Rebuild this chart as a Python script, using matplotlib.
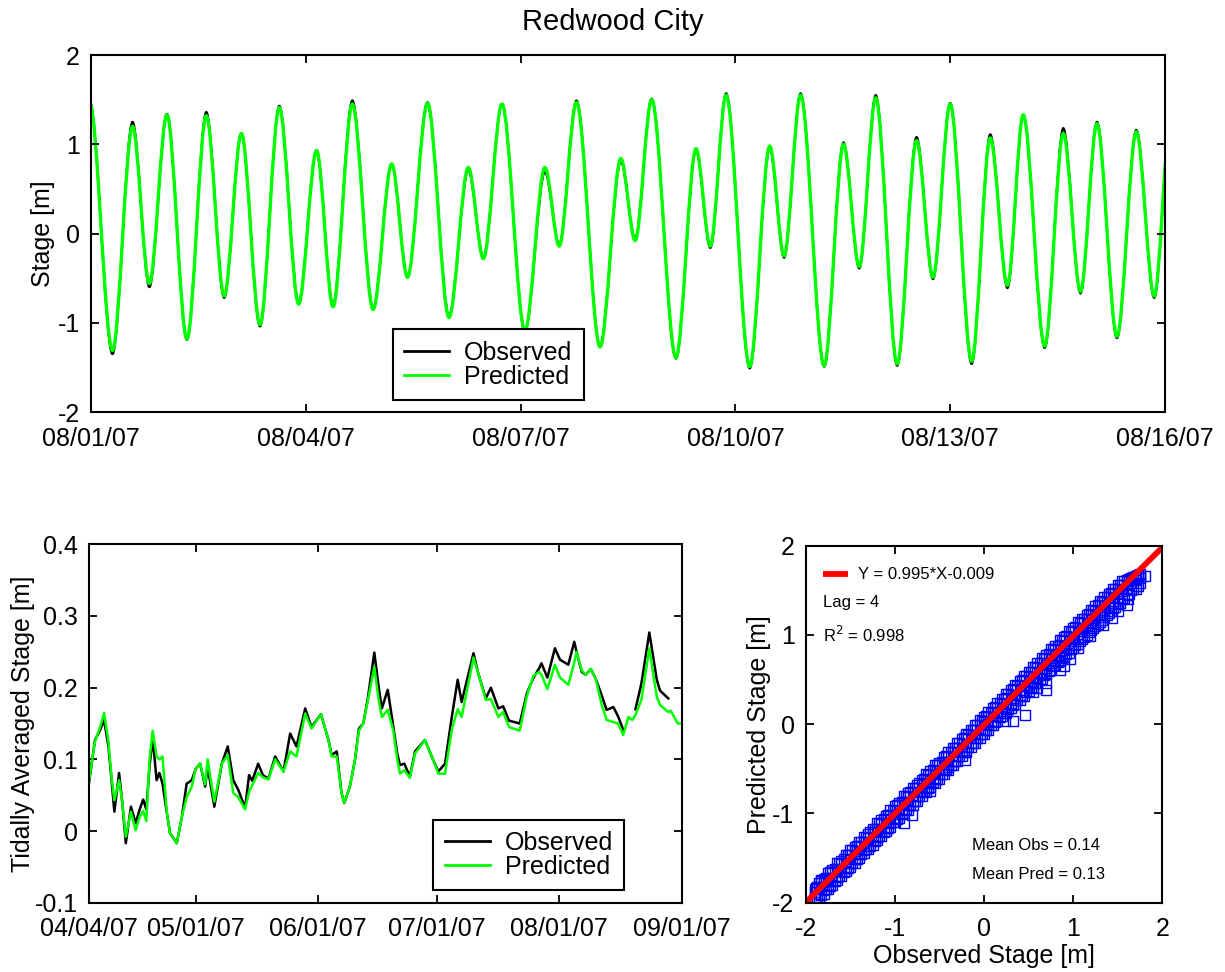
import matplotlib
matplotlib.use("Agg")
import matplotlib.pyplot as plt
from matplotlib.path import Path
from matplotlib.patches import PathPatch
from matplotlib.lines import Line2D

plt.rcParams['font.family'] = ['Liberation Sans', 'DejaVu Sans']

# ---------------------------------------------------------------------------
# Stage time series, 08/01/07 - 08/16/07: successive highs and lows
# (time in days since 08/01/07 00:00, stage in metres)
# ---------------------------------------------------------------------------
tide_days = [-0.02, 0.30, 0.58, 0.815, 1.06, 1.34, 1.61, 1.86, 2.10, 2.36,
             2.63, 2.90, 3.15, 3.38, 3.65, 3.94, 4.20, 4.42, 4.70, 5.00,
             5.27, 5.48, 5.74, 6.06, 6.34, 6.54, 6.78, 7.11, 7.40, 7.60,
             7.83, 8.17, 8.45, 8.65, 8.87, 9.20, 9.48, 9.68, 9.91, 10.24,
             10.51, 10.73, 10.96, 11.26, 11.53, 11.76, 12.00, 12.30, 12.56, 12.80,
             13.02, 13.32, 13.58, 13.82, 14.05, 14.33, 14.60, 14.85, 15.08]
tide_obs = [1.48, -1.35, 1.25, -0.60, 1.34, -1.19, 1.36, -0.72, 1.12, -1.04,
            1.43, -0.77, 0.93, -0.80, 1.49, -0.84, 0.78, -0.49, 1.47, -0.92,
            0.71, -0.27, 1.45, -1.10, 0.69, -0.12, 1.49, -1.26, 0.81, -0.06,
            1.51, -1.40, 0.93, -0.16, 1.57, -1.51, 0.96, -0.27, 1.57, -1.49,
            1.02, -0.39, 1.55, -1.48, 1.08, -0.51, 1.46, -1.46, 1.11, -0.61,
            1.33, -1.28, 1.18, -0.67, 1.25, -1.17, 1.16, -0.72, 1.30]
tide_pred = [1.47, -1.31, 1.20, -0.56, 1.33, -1.18, 1.32, -0.70, 1.12, -1.02,
             1.41, -0.79, 0.93, -0.82, 1.45, -0.85, 0.78, -0.49, 1.46, -0.94,
             0.74, -0.28, 1.45, -1.09, 0.74, -0.14, 1.47, -1.27, 0.84, -0.08,
             1.50, -1.39, 0.95, -0.14, 1.55, -1.49, 0.98, -0.25, 1.55, -1.48,
             1.00, -0.37, 1.52, -1.46, 1.04, -0.49, 1.45, -1.43, 1.07, -0.58,
             1.33, -1.26, 1.12, -0.65, 1.23, -1.15, 1.14, -0.70, 1.28]
tide_tick_days = [0, 3, 6, 9, 12, 15]
tide_tick_labels = ['08/01/07', '08/04/07', '08/07/07', '08/10/07', '08/13/07', '08/16/07']
stage_ticks = [-2, -1, 0, 1, 2]
stage_tick_labels = ['-2', '-1', '0', '1', '2']

# ---------------------------------------------------------------------------
# Tidally averaged stage, 04/04/07 - 09/01/07 (days since 04/04/07)
# ---------------------------------------------------------------------------
avg_days = [0.0, 1.5, 2.8, 3.8, 4.9, 5.7, 6.4, 7.6, 8.4, 9.3,
            10.6, 11.8, 12.8, 13.7, 14.5, 15.3, 16.1, 17.1, 17.8, 18.6,
            19.7, 20.5, 22.2, 23.5, 24.7, 26.0, 27.0, 28.1, 29.4, 30.0,
            31.7, 33.6, 35.1, 36.5, 37.8, 39.5, 40.5, 41.3, 42.8, 44.0,
            45.4, 47.1, 49.2, 50.9, 52.5, 54.7, 56.3, 58.7, 60.6, 61.4,
            62.7, 63.9, 64.6, 66.0, 67.3, 68.3, 69.4, 70.5, 72.2, 73.3,
            74.1, 75.6, 77.0, 78.0, 78.7, 79.8, 81.2, 82.5, 85.0, 87.1,
            88.4, 90.1, 91.8, 93.3, 94.3, 97.3, 98.5, 100.4, 101.7, 103.6,
            104.8, 106.3, 109.0, 110.8, 112.4, 113.9, 114.5, 116.0, 117.9, 119.2,
            121.3, 122.8, 123.4, 124.7, 125.7, 127.0, 128.2, 129.7, 131.0, 132.7,
            133.9, 135.2, 136.5, 137.5, 138.3, 139.8, 141.8, 143.7, 144.5, 146.6,
            147.2, 149.0, 150.0]
avg_obs = [0.068, 0.127, 0.141, 0.155, 0.118, 0.071, 0.027, 0.081, 0.040, -0.017,
           0.034, 0.011, 0.030, 0.044, 0.030, 0.090, 0.130, 0.071, 0.081, 0.066,
           0.025, -0.003, -0.017, 0.020, 0.066, 0.071, 0.087, 0.094, 0.062, 0.090,
           0.034, 0.094, 0.118, 0.071, 0.057, 0.032, 0.078, 0.070, 0.094, 0.078,
           0.073, 0.104, 0.083, 0.136, 0.118, 0.171, 0.145, 0.163, 0.127, 0.106,
           0.111, 0.053, 0.039, 0.062, 0.099, 0.143, 0.150, 0.183, 0.249, 0.201,
           0.171, 0.197, 0.146, 0.108, 0.092, 0.094, 0.076, 0.111, 0.127, 0.099,
           0.083, 0.094, 0.159, 0.211, 0.180, 0.248, 0.220, 0.185, 0.200, 0.171,
           0.174, 0.154, 0.150, 0.192, 0.213, 0.227, 0.234, 0.214, 0.255, 0.239,
           0.232, 0.264, 0.250, 0.222, 0.218, 0.226, 0.213, 0.190, 0.169, 0.173,
           0.160, 0.141, float('nan'), float('nan'), 0.170, 0.206, 0.277, 0.211, 0.196, 0.185,
           float('nan'), float('nan'), float('nan')]
avg_pred = [0.070, 0.125, 0.145, 0.165, 0.125, 0.075, 0.043, 0.071, 0.040, -0.008,
            0.027, 0.001, 0.020, 0.028, 0.014, 0.100, 0.140, 0.104, 0.100, 0.104,
            0.025, -0.003, -0.017, 0.020, 0.047, 0.062, 0.087, 0.094, 0.065, 0.100,
            0.041, 0.094, 0.106, 0.053, 0.047, 0.030, 0.055, 0.064, 0.081, 0.075,
            0.072, 0.100, 0.083, 0.111, 0.104, 0.164, 0.143, 0.163, 0.127, 0.104,
            0.104, 0.053, 0.039, 0.062, 0.099, 0.140, 0.150, 0.180, 0.229, 0.183,
            0.159, 0.169, 0.140, 0.100, 0.080, 0.085, 0.074, 0.108, 0.127, 0.099,
            0.080, 0.080, 0.141, 0.170, 0.159, 0.242, 0.220, 0.183, 0.184, 0.159,
            0.166, 0.145, 0.140, 0.188, 0.216, 0.222, 0.218, 0.198, 0.232, 0.214,
            0.204, 0.235, 0.250, 0.224, 0.218, 0.226, 0.213, 0.177, 0.155, 0.152,
            0.150, 0.134, 0.159, 0.155, 0.162, 0.183, 0.255, 0.187, 0.176, 0.166,
            0.168, 0.150, 0.150]
avg_tick_days = [0, 27, 58, 88, 119, 150]
avg_tick_labels = ['04/04/07', '05/01/07', '06/01/07', '07/01/07', '08/01/07', '09/01/07']
avg_ticks = [-0.1, 0.0, 0.1, 0.2, 0.3, 0.4]
avg_tick_labels_y = ['-0.1', '0', '0.1', '0.2', '0.3', '0.4']

# ---------------------------------------------------------------------------
# Observed vs predicted stage (m)
# ---------------------------------------------------------------------------
obs_stage = [-1.90, -1.85, -1.80, -1.75, -1.70, -1.65, -1.60, -1.55, -1.50, -1.45,
             -1.40, -1.35, -1.30, -1.25, -1.20, -1.15, -1.10, -1.05, -1.00, -0.95,
             -0.90, -0.85, -0.80, -0.75, -0.70, -0.65, -0.60, -0.55, -0.50, -0.45,
             -0.40, -0.35, -0.30, -0.25, -0.20, -0.15, -0.10, -0.05, 0.00, 0.05,
             0.10, 0.15, 0.20, 0.25, 0.30, 0.35, 0.40, 0.45, 0.50, 0.55,
             0.60, 0.65, 0.70, 0.75, 0.80, 0.85, 0.90, 0.95, 1.00, 1.05,
             1.10, 1.15, 1.20, 1.25, 1.30, 1.35, 1.40, 1.45, 1.50, 1.55,
             1.60, 1.65, 1.70, 1.75]
pred_upper = [-1.85, -1.78, -1.74, -1.67, -1.63, -1.56, -1.53, -1.47, -1.41, -1.38,
              -1.32, -1.26, -1.23, -1.17, -1.11, -1.07, -1.03, -0.96, -0.92, -0.88,
              -0.81, -0.77, -0.71, -0.68, -0.62, -0.56, -0.52, -0.46, -0.43, -0.37,
              -0.31, -0.27, -0.21, -0.17, -0.11, -0.07, -0.01, 0.05, 0.08, 0.14,
              0.18, 0.24, 0.28, 0.34, 0.38, 0.44, 0.48, 0.54, 0.58, 0.64,
              0.68, 0.74, 0.78, 0.84, 0.88, 0.94, 0.98, 1.04, 1.08, 1.14,
              1.18, 1.22, 1.28, 1.32, 1.38, 1.42, 1.46, 1.52, 1.56, 1.60,
              1.62, 1.64, 1.65, 1.66]
pred_upper_mid = [-1.88, -1.82, -1.77, -1.72, -1.66, -1.62, -1.57, -1.51, -1.47, -1.42,
                  -1.36, -1.32, -1.27, -1.21, -1.17, -1.12, -1.06, -1.02, -0.97, -0.91,
                  -0.87, -0.82, -0.76, -0.72, -0.67, -0.61, -0.57, -0.52, -0.46, -0.42,
                  -0.37, -0.31, -0.27, -0.22, -0.16, -0.12, -0.07, -0.01, 0.03, 0.08,
                  0.14, 0.18, 0.23, 0.29, 0.33, 0.38, 0.44, 0.48, 0.53, 0.59,
                  0.63, 0.68, 0.74, 0.78, 0.83, 0.89, 0.93, 0.98, 1.04, 1.08,
                  1.13, 1.18, 1.22, 1.27, 1.33, 1.37, 1.42, 1.47, 1.51, 1.56,
                  1.60, 1.63, 1.66, 1.68]
pred_lower_mid = [-1.94, -1.90, -1.86, -1.80, -1.76, -1.71, -1.65, -1.61, -1.55, -1.51,
                  -1.45, -1.41, -1.36, -1.30, -1.26, -1.20, -1.16, -1.11, -1.05, -1.01,
                  -0.96, -0.90, -0.86, -0.81, -0.75, -0.71, -0.66, -0.60, -0.56, -0.51,
                  -0.45, -0.41, -0.36, -0.30, -0.26, -0.21, -0.15, -0.11, -0.06, 0.00,
                  0.04, 0.09, 0.15, 0.19, 0.24, 0.29, 0.33, 0.38, 0.44, 0.48,
                  0.53, 0.59, 0.63, 0.68, 0.74, 0.78, 0.83, 0.89, 0.93, 0.98,
                  1.04, 1.08, 1.13, 1.19, 1.23, 1.28, 1.34, 1.38, 1.43, 1.49,
                  1.53, 1.58, 1.62, 1.64]
pred_lower = [-1.96, -1.95, -1.90, -1.85, -1.80, -1.75, -1.70, -1.64, -1.60, -1.55,
              -1.50, -1.44, -1.40, -1.35, -1.30, -1.25, -1.20, -1.15, -1.10, -1.05,
              -1.00, -0.96, -0.90, -0.86, -0.80, -0.76, -0.70, -0.66, -0.61, -0.56,
              -0.51, -0.46, -0.41, -0.36, -0.31, -0.26, -0.21, -0.16, -0.11, -0.06,
              -0.01, 0.04, 0.09, 0.13, 0.18, 0.23, 0.27, 0.32, 0.37, 0.42,
              0.46, 0.51, 0.56, 0.61, 0.66, 0.71, 0.75, 0.80, 0.85, 0.90,
              0.95, 1.00, 1.05, 1.10, 1.15, 1.20, 1.25, 1.30, 1.35, 1.40,
              1.45, 1.50, 1.55, 1.58]
obs_stage_b = [-1.875, -1.825, -1.775, -1.725, -1.675, -1.625, -1.575, -1.525, -1.475, -1.425,
               -1.375, -1.325, -1.275, -1.225, -1.175, -1.125, -1.075, -1.025, -0.975, -0.925,
               -0.875, -0.825, -0.775, -0.725, -0.675, -0.625, -0.575, -0.525, -0.475, -0.425,
               -0.375, -0.325, -0.275, -0.225, -0.175, -0.125, -0.075, -0.025, 0.025, 0.075,
               0.125, 0.175, 0.225, 0.275, 0.325, 0.375, 0.425, 0.475, 0.525, 0.575,
               0.625, 0.675, 0.725, 0.775, 0.825, 0.875, 0.925, 0.975, 1.025, 1.075,
               1.125, 1.175, 1.225, 1.275, 1.325, 1.375, 1.425, 1.475, 1.525, 1.575,
               1.625, 1.675, 1.725]
pred_b_upper = [-1.82, -1.76, -1.72, -1.66, -1.62, -1.56, -1.51, -1.47, -1.41, -1.36,
                -1.32, -1.26, -1.21, -1.17, -1.11, -1.06, -1.02, -0.96, -0.91, -0.87,
                -0.81, -0.76, -0.72, -0.66, -0.61, -0.57, -0.51, -0.46, -0.42, -0.36,
                -0.31, -0.27, -0.21, -0.16, -0.12, -0.06, -0.01, 0.04, 0.09, 0.13,
                0.19, 0.24, 0.28, 0.34, 0.39, 0.43, 0.49, 0.54, 0.58, 0.64,
                0.69, 0.73, 0.79, 0.84, 0.88, 0.94, 0.99, 1.03, 1.09, 1.13,
                1.18, 1.23, 1.28, 1.33, 1.37, 1.42, 1.47, 1.52, 1.56, 1.60,
                1.63, 1.65, 1.67]
pred_b_lower = [-1.95, -1.91, -1.85, -1.81, -1.76, -1.70, -1.66, -1.61, -1.55, -1.51,
                -1.46, -1.40, -1.36, -1.31, -1.25, -1.21, -1.16, -1.10, -1.06, -1.01,
                -0.95, -0.91, -0.86, -0.80, -0.76, -0.71, -0.65, -0.61, -0.56, -0.50,
                -0.46, -0.41, -0.36, -0.31, -0.26, -0.21, -0.16, -0.11, -0.06, -0.01,
                0.03, 0.08, 0.13, 0.17, 0.22, 0.27, 0.32, 0.36, 0.41, 0.46,
                0.51, 0.55, 0.60, 0.65, 0.70, 0.74, 0.79, 0.84, 0.89, 0.93,
                0.98, 1.03, 1.08, 1.12, 1.17, 1.22, 1.27, 1.31, 1.36, 1.41,
                1.46, 1.51, 1.55]
stray_obs = [0.46, 0.70, 0.70, 0.85, 0.97, 1.19, 1.34, 1.44, 1.60, 1.81,
             0.33, 0.24, -1.88, -1.83, -0.90, -0.81, -0.21, -0.40, 1.62, 1.70,
             1.50, 0.60, 0.55, 1.05, -0.60, 0.90]
stray_pred = [0.10, 0.38, 0.46, 0.61, 0.73, 0.99, 1.11, 1.19, 1.33, 1.66,
              0.04, 0.04, -1.84, -1.75, -1.11, -1.02, -0.40, -0.48, 1.40, 1.52,
              1.27, 0.40, 0.36, 0.85, -0.75, 0.65]
fit_slope = 0.995
fit_intercept = -0.009
lag_hours = 4
r_squared = 0.998
mean_obs = 0.14
mean_pred = 0.13

GREEN = '#00ff00'
LABEL_SIZE = 18


def smooth_tide(days, values):
    """Cubic path through successive highs/lows with flat tangents at each turn."""
    verts = [(days[0], values[0])]
    codes = [Path.MOVETO]
    for i in range(len(days) - 1):
        d = days[i + 1] - days[i]
        verts += [(days[i] + d / 3.0, values[i]),
                  (days[i + 1] - d / 3.0, values[i + 1]),
                  (days[i + 1], values[i + 1])]
        codes += [Path.CURVE4] * 3
    return Path(verts, codes)


def style_axes(ax):
    for s in ax.spines.values():
        s.set_linewidth(1.5)
    ax.tick_params(direction='in', top=True, right=True, length=6, width=1.3,
                   labelsize=LABEL_SIZE)
    ax.tick_params(axis='x', pad=10.5)
    ax.tick_params(axis='y', pad=8)


def add_legend(ax, anchor):
    handles = [Line2D([], [], color='black', lw=2.0),
               Line2D([], [], color=GREEN, lw=2.0)]
    leg = ax.legend(handles, ['Observed', 'Predicted'], loc='lower left',
                    bbox_to_anchor=anchor, borderaxespad=0, fontsize=LABEL_SIZE,
                    fancybox=False, edgecolor='black', framealpha=1,
                    handlelength=1.8, handletextpad=0.6, borderpad=0.45,
                    labelspacing=0.0)
    leg.get_frame().set_linewidth(1.5)


fig = plt.figure(figsize=(12.25, 9.72), dpi=100)

# --- stage time series ------------------------------------------------------
ax1 = fig.add_axes([0.0743, 0.5761, 0.8767, 0.3673])
ax1.add_patch(PathPatch(smooth_tide(tide_days, tide_obs), fill=False,
                        edgecolor='black', lw=1.6))
ax1.add_patch(PathPatch(smooth_tide(tide_days, tide_pred), fill=False,
                        edgecolor=GREEN, lw=2.4))
ax1.set_xlim(tide_tick_days[0], tide_tick_days[-1])
ax1.set_ylim(stage_ticks[0], stage_ticks[-1])
ax1.set_xticks(tide_tick_days)
ax1.set_xticklabels(tide_tick_labels)
ax1.set_yticks(stage_ticks)
ax1.set_yticklabels(stage_tick_labels)
style_axes(ax1)
ax1.set_ylabel('Stage [m]', fontsize=LABEL_SIZE, va='center')
ax1.yaxis.set_label_coords(-0.045, 0.5)
add_legend(ax1, (0.281, 0.034))
fig.text(0.5, 0.977, 'Redwood City', ha='center', va='center', fontsize=21)

# --- tidally averaged stage -------------------------------------------------
ax2 = fig.add_axes([0.0727, 0.0713, 0.4838, 0.3687])
ax2.plot(avg_days, avg_obs, color='black', lw=1.8)
ax2.plot(avg_days, avg_pred, color=GREEN, lw=1.8)
ax2.set_xlim(avg_tick_days[0], avg_tick_days[-1])
ax2.set_ylim(avg_ticks[0], avg_ticks[-1])
ax2.set_xticks(avg_tick_days)
ax2.set_xticklabels(avg_tick_labels)
ax2.set_yticks(avg_ticks)
ax2.set_yticklabels(avg_tick_labels_y)
style_axes(ax2)
ax2.set_ylabel('Tidally Averaged Stage [m]', fontsize=LABEL_SIZE, va='center')
ax2.yaxis.set_label_coords(-0.112, 0.5)
add_legend(ax2, (0.581, 0.035))

# --- observed vs predicted scatter -----------------------------------------
ax3 = fig.add_axes([0.6577, 0.0713, 0.2911, 0.3673])
marker_style = dict(linestyle='none', marker='s', markersize=7.0,
                    markerfacecolor='none', markeredgecolor='#0000ff',
                    markeredgewidth=1.0)
for pred in (pred_lower, pred_lower_mid, pred_upper_mid, pred_upper):
    ax3.plot(obs_stage, pred, **marker_style)
for pred in (pred_b_lower, pred_b_upper):
    ax3.plot(obs_stage_b, pred, **marker_style)
ax3.plot(stray_obs, stray_pred, **marker_style)
fit_x = [stage_ticks[0], stage_ticks[-1]]
fit_y = [fit_slope * x + fit_intercept for x in fit_x]
ax3.plot(fit_x, fit_y, color='#ff0000', lw=4.2, solid_capstyle='butt')
ax3.set_xlim(stage_ticks[0], stage_ticks[-1])
ax3.set_ylim(stage_ticks[0], stage_ticks[-1])
ax3.set_xticks(stage_ticks)
ax3.set_xticklabels(stage_tick_labels)
ax3.set_yticks(stage_ticks)
ax3.set_yticklabels(stage_tick_labels)
style_axes(ax3)
ax3.set_xlabel('Observed Stage [m]', fontsize=LABEL_SIZE, va='center')
ax3.xaxis.set_label_coords(0.5, -0.148)
ax3.set_ylabel('Predicted Stage [m]', fontsize=LABEL_SIZE, va='center')
ax3.yaxis.set_label_coords(-0.13, 0.5)

ax3.plot([0.049, 0.119], [0.92, 0.92], transform=ax3.transAxes,
         color='#ff0000', lw=4.2, solid_capstyle='butt')
ax3.text(0.148, 0.92, f'Y = {fit_slope:.3f}*X{fit_intercept:.3f}',
         transform=ax3.transAxes, fontsize=12, va='center')
ax3.text(0.049, 0.84, f'Lag = {lag_hours}', transform=ax3.transAxes,
         fontsize=12, va='center')
ax3.text(0.049, 0.75, f'R$^2$ = {r_squared:.3f}', transform=ax3.transAxes,
         fontsize=12, va='center')
ax3.text(0.465, 0.16, f'Mean Obs = {mean_obs:.2f}', transform=ax3.transAxes,
         fontsize=12, va='center')
ax3.text(0.465, 0.08, f'Mean Pred = {mean_pred:.2f}', transform=ax3.transAxes,
         fontsize=12, va='center')

fig.savefig('out.png', dpi=100)
